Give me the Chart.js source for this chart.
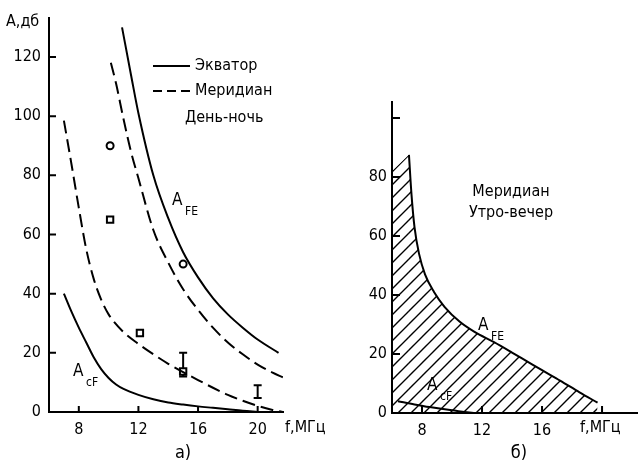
<!DOCTYPE html>
<html lang="ru">
<head>
<meta charset="UTF-8">
<title>A(f) - день-ночь / утро-вечер</title>
<script src="https://cdn.jsdelivr.net/npm/chart.js"></script>
<style>
  html, body { margin: 0; padding: 0; background: #fff; }
  #wrap { position: relative; width: 639px; height: 463px; }
  #left { position: absolute; left: 0; top: 0; }
  #right { position: absolute; left: 330px; top: 0; }
</style>
</head>
<body>
<div id="wrap">
  <canvas id="left" width="330" height="463"></canvas>
  <canvas id="right" width="309" height="463"></canvas>
</div>
<script>
// ---- panel a): день-ночь ----
const leftXTicks = [8, 12, 16, 20];
const leftYTicks = [0, 20, 40, 60, 80, 100, 120];

// экватор, A_FE (solid upper)
const eqFE_f = [10.9, 11.5, 12, 13, 14, 15, 16, 17, 18, 19, 20, 21.4];
const eqFE_A = [130, 114, 101, 80, 65.5, 54, 45.5, 38.5, 33, 28.5, 24.5, 20];
// меридиан, A_FE (dashed upper)
const merFE_f = [10.15, 10.5, 11, 11.5, 12, 13, 14, 15, 16, 17, 18, 19, 20, 21, 21.7];
const merFE_A = [118, 111, 99, 88, 79, 61.5, 50.5, 41.5, 34.5, 28.5, 23.5, 19.5, 16, 13.3, 11.7];
// меридиан, A_cF (dashed lower)
const merCF_f = [7.0, 7.5, 8.0, 8.5, 9.0, 9.5, 10, 11, 12, 13, 14, 15, 16, 17, 18, 19, 20, 21, 21.7];
const merCF_A = [98.5, 84, 69, 55, 45, 38, 33, 27, 23, 19.5, 16.3, 13.5, 10.8, 8.2, 5.8, 3.8, 2.1, 0.7, 0];
// экватор, A_cF (solid lower)
const eqCF_f = [7.0, 7.5, 8.0, 8.5, 9.0, 9.5, 10, 10.5, 11, 12, 13, 14, 15, 16, 17, 18, 19, 20];
const eqCF_A = [40, 34, 28.5, 23.5, 18.5, 14.5, 11.5, 9.3, 7.8, 5.8, 4.3, 3.2, 2.5, 1.9, 1.4, 0.9, 0.4, 0];

// measured points
const circle_f = [10.1, 15.0];
const circle_A = [90, 50];
const square_f = [10.1, 12.1, 15.0];
const square_A = [65, 26.7, 13.7];
const bar1_f = [15.0, 15.0];
const bar1_A = [12, 20];
const bar2_f = [20.0, 20.0];
const bar2_A = [4.7, 9];

// ---- panel б): меридиан, утро-вечер ----
const rightXTicks = [8, 12, 16, 20];
const rightYTicks = [0, 20, 40, 60, 80, 100];
const rFE_f = [7.13, 7.3, 7.5, 7.8, 8.2, 8.8, 9.5, 10.5, 11.5, 12.8, 14, 15, 16, 17.2, 18.5, 19.7];
const rFE_A = [87.5, 74, 63, 54, 47, 41, 36, 31, 27.5, 24, 20.5, 17.5, 14.5, 11, 7, 3.5];
const rEdge_f = [6.0, 7.13];   // top-left edge of the hatched area
const rEdge_A = [82, 87.5];
const rCF_f = [6.4, 7.5, 8.5, 10.0, 11.7, 12.8];
const rCF_A = [4, 2.9, 2, 0.9, 0, 0];

const FONT = "'Liberation Sans Narrow', 'DejaVu Sans Condensed', sans-serif";

function pts(fs, as) {
  return fs.map((f, i) => ({ x: f, y: as[i] }));
}

function curve(fs, as, dashed) {
  return {
    data: pts(fs, as),
    borderColor: '#000',
    borderWidth: 2,
    borderDash: dashed ? [13, 6] : [],
    pointRadius: 0,
    cubicInterpolationMode: 'monotone',
    fill: false
  };
}

function marks(fs, as, style, r) {
  return {
    data: pts(fs, as),
    showLine: false,
    pointStyle: style,
    pointRadius: r,
    pointBorderColor: '#000',
    pointBackgroundColor: '#fff',
    pointBorderWidth: 2
  };
}

function errBar(fs, as) {
  return {
    data: pts(fs, as),
    borderColor: '#000',
    borderWidth: 2,
    pointStyle: 'line',
    pointRadius: 4,
    pointBorderColor: '#000',
    pointBorderWidth: 2
  };
}

function label(ctx, x, y, text, size, align) {
  ctx.font = size + 'px ' + FONT;
  ctx.textAlign = align || 'left';
  ctx.textBaseline = 'middle';
  ctx.fillText(text, x, y);
}

function subLabel(ctx, x, y, main, sub) {
  label(ctx, x, y, main, 17);
  label(ctx, x + 13, y + 11, sub, 12);
}

// tick marks pointing into the plot
function innerTicks(chart, xLen, yLen) {
  const { ctx, chartArea, scales } = chart;
  ctx.save();
  ctx.strokeStyle = '#000';
  ctx.lineWidth = 2;
  ctx.beginPath();
  scales.x.ticks.forEach(t => {
    const px = scales.x.getPixelForValue(t.value);
    ctx.moveTo(px, chartArea.bottom);
    ctx.lineTo(px, chartArea.bottom - xLen);
  });
  scales.y.ticks.forEach(t => {
    if (t.value === 0) return;
    const py = scales.y.getPixelForValue(t.value);
    ctx.moveTo(chartArea.left, py);
    ctx.lineTo(chartArea.left + yLen, py);
  });
  ctx.stroke();
  ctx.restore();
}

function scaleOpts(min, max, tickList, size, pad, blank) {
  return {
    type: 'linear',
    min: min,
    max: max,
    afterFit: s => {
      if (s.axis === 'x') s.height = size; else s.width = size;
    },
    afterBuildTicks: s => { s.ticks = tickList.map(v => ({ value: v })); },
    grid: { display: true, drawOnChartArea: false, drawTicks: false },
    border: { display: true, color: '#000', width: 2 },
    ticks: {
      color: '#000',
      padding: pad,
      font: { family: FONT, size: 16 },
      callback: v => (blank && blank.includes(v)) ? '' : String(v)
    }
  };
}

// ---- left chart ----
const leftExtras = {
  id: 'leftExtras',
  afterDraw(chart) {
    const ctx = chart.ctx;
    innerTicks(chart, 6, 7);
    ctx.save();
    ctx.fillStyle = '#000';
    label(ctx, 6, 22, 'А,дб', 16);
    label(ctx, 285, 428, 'f,МГц', 16);
    label(ctx, 183, 453, 'а)', 18, 'center');

    // legend
    ctx.strokeStyle = '#000';
    ctx.lineWidth = 2;
    ctx.beginPath(); ctx.moveTo(153, 66); ctx.lineTo(190, 66); ctx.stroke();
    ctx.setLineDash([9, 5]);
    ctx.beginPath(); ctx.moveTo(153, 91); ctx.lineTo(190, 91); ctx.stroke();
    ctx.setLineDash([]);
    label(ctx, 195, 66, 'Экватор', 16);
    label(ctx, 195, 91, 'Меридиан', 16);
    label(ctx, 185, 118, 'День-ночь', 16);

    subLabel(ctx, 172, 201, 'A', 'FE');
    subLabel(ctx, 73, 372, 'A', 'cF');
    ctx.restore();
  }
};

new Chart(document.getElementById('left'), {
  type: 'line',
  data: {
    datasets: [
      curve(eqFE_f, eqFE_A, false),
      curve(merFE_f, merFE_A, true),
      curve(merCF_f, merCF_A, true),
      curve(eqCF_f, eqCF_A, false),
      marks(circle_f, circle_A, 'circle', 3.5),
      marks(square_f, square_A, 'rect', 4.5),
      errBar(bar1_f, bar1_A),
      errBar(bar2_f, bar2_A)
    ]
  },
  options: {
    responsive: false,
    animation: false,
    events: [],
    layout: { padding: { left: 0, top: 12, right: 47, bottom: 0 } },
    plugins: { legend: { display: false }, tooltip: { enabled: false } },
    scales: {
      x: scaleOpts(6, 21.7, leftXTicks, 51, 8),
      y: scaleOpts(0, 133.3, leftYTicks, 49, 8)
    }
  },
  plugins: [leftExtras]
});

// ---- right chart ----
const rightCanvas = document.getElementById('right');
function hatchPattern(ctx) {
  const s = 13;
  const c = document.createElement('canvas');
  c.width = s; c.height = s;
  const g = c.getContext('2d');
  g.strokeStyle = '#000';
  g.lineWidth = 1.4;
  g.beginPath();
  g.moveTo(0, s); g.lineTo(s, 0);
  g.moveTo(-3, 3); g.lineTo(3, -3);
  g.moveTo(s - 3, s + 3); g.lineTo(s + 3, s - 3);
  g.stroke();
  return ctx.createPattern(c, 'repeat');
}
const hatch = hatchPattern(rightCanvas.getContext('2d'));

const rightExtras = {
  id: 'rightExtras',
  afterDraw(chart) {
    const ctx = chart.ctx;
    innerTicks(chart, 7, 8);
    ctx.save();
    ctx.fillStyle = '#000';
    label(ctx, 250, 428, 'f,МГц', 16);
    label(ctx, 189, 453, 'б)', 18, 'center');
    label(ctx, 181, 192, 'Меридиан', 16, 'center');
    label(ctx, 181, 213, 'Утро-вечер', 16, 'center');
    subLabel(ctx, 148, 326, 'A', 'FE');
    subLabel(ctx, 97, 386, 'A', 'cF');
    ctx.restore();
  }
};

const rFE = curve(rFE_f, rFE_A, false);
rFE.fill = 'origin';
rFE.backgroundColor = hatch;
const rEdge = {
  data: pts(rEdge_f, rEdge_A),
  borderWidth: 0,
  pointRadius: 0,
  fill: 'origin',
  backgroundColor: hatch
};

new Chart(rightCanvas, {
  type: 'line',
  data: {
    datasets: [
      rFE,
      rEdge,
      curve(rCF_f, rCF_A, false)
    ]
  },
  options: {
    responsive: false,
    animation: false,
    events: [],
    layout: { padding: { left: 0, top: 102, right: 2, bottom: 0 } },
    plugins: { legend: { display: false }, tooltip: { enabled: false } },
    scales: {
      x: scaleOpts(6, 22.33, rightXTicks, 50, 8, [20]),
      y: scaleOpts(0, 105.4, rightYTicks, 62, 5, [100])
    }
  },
  plugins: [rightExtras]
});
</script>
</body>
</html>
